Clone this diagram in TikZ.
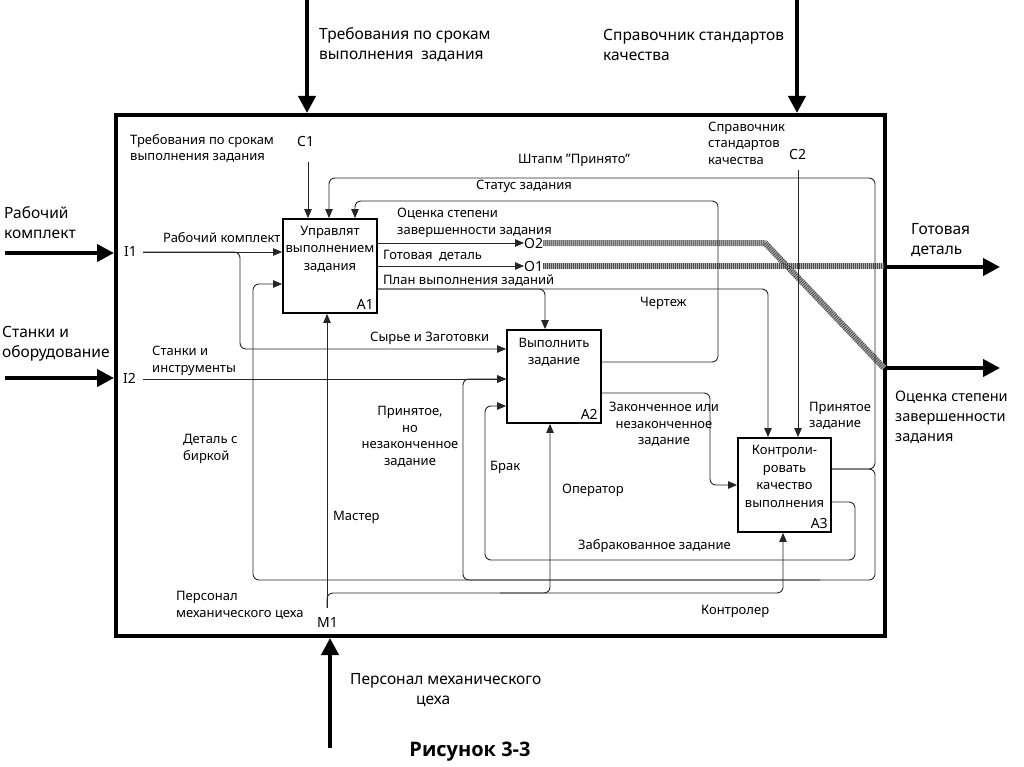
\documentclass[tikz,border=0pt]{standalone}
\usepackage{fontspec}
\setmainfont{Noto Sans}
\newfontfamily\capfont{Open Sans}
\usetikzlibrary{arrows.meta}
\newcommand\lblfont{\fontsize{13}{16.5}\selectfont}
\newcommand\boxfont{\fontsize{13}{17.5}\selectfont}
\newcommand\outfont{\fontsize{15.5}{20}\selectfont}
\begin{document}
\begin{tikzpicture}[x=1pt,y=-1pt,
  conn/.style={line width=0.9pt, black!85, rounded corners=6pt},
  arr/.style={conn, -{Triangle[length=9pt,width=7.5pt]}},
  big/.style={line width=4pt, -{Triangle[length=17pt,width=17pt]}},
  hatch/.style={line width=6pt, black!30},
  hatchover/.style={line width=6pt, black!70, dash pattern=on 0.8pt off 1.2pt},
  proc/.style={draw, line width=1.8pt, minimum width=94pt, minimum height=94pt, inner sep=0pt},
  boxtxt/.style={font=\boxfont, align=center, inner sep=0pt},
  num/.style={font=\fontsize{14}{16}\selectfont, inner sep=4pt, anchor=south east},
  lab/.style={font=\lblfont, align=left, inner sep=0pt, anchor=west},
  labc/.style={font=\lblfont, align=center, inner sep=0pt},
  outlab/.style={font=\outfont, align=left, inner sep=0pt, anchor=west},
  tag/.style={font=\fontsize{14}{16}\selectfont, inner sep=0pt, anchor=west}]
\useasboundingbox (0,0) rectangle (1024,767);

% frame
\node[draw, line width=4pt, minimum width=769pt, minimum height=521pt, inner sep=0pt] (F) at (500.5,375.5) {};

% activity boxes
\node[proc] (A1) at (330,266) {};
\node[proc, minimum height=93pt] (A2) at (554,376.5) {};
\node[proc, minimum width=93pt] (A3) at (784.5,485) {};
\node[boxtxt] (A1t) at (330,249) {Управлят\\выполнением\\задания};
\node[boxtxt] (A2t) at (554,352.5) {Выполнить\\задание};
\node[boxtxt] (A3t) at (784.5,476.5) {Контроли-\\ровать\\качество\\выполнения};
\node[num] (A1n) at (A1.south east) {A1};
\node[num] (A2n) at (A2.south east) {A2};
\node[num] (A3n) at (A3.south east) {A3};

% tunnel tags
\node[tag] (O2) at (524,243) {O2};
\node[tag] (O1) at (524,266) {O1};
\node[tag] (C1) at (297,142) {C1};
\node[tag] (C2) at (789,155) {C2};
\node[tag] (I1) at (124,252) {I1};
\node[tag] (I2) at (123,378) {I2};
\node[tag] (M1) at (317,622) {M1};

% free ends
\coordinate (c1) at (308,162);
\coordinate (c2) at (798,170);
\coordinate (i1) at (143,252);
\coordinate (i2) at (143,379);
\coordinate (m1) at (327,608);
\coordinate (j1) at (820,580);
\coordinate (j2) at (500,593);
\coordinate (t1) at (307,0);
\coordinate (t2) at (797,0);
\coordinate (l1) at (5,253);
\coordinate (l2) at (5,378);
\coordinate (b1) at (330,748);
\coordinate (r1) at (1000,267);
\coordinate (r2) at (1000,368);

% hatched tunnels
\draw[hatch] (O2.east) -- (765,243) -- (884,368);
\draw[hatch] (O1.east) -- (884,266);
\draw[hatchover] (O2.east) -- (765,243) -- (884,368);
\draw[hatchover] (O1.east) -- (884,266);

% controls
\draw[arr] (c1) -- (c1 |- A1.north);
\draw[arr] (c2) -- (c2 |- A3.north);
% inputs
\draw[arr] (i1) -- (i1 -| A1.west);
\draw[arr] (i1) -- (240,252) -- (240,349) -- (A2.west |- 0,349);
\draw[arr] (i2) -- (A2.west |- 0,379);
% A1 outputs
\draw[arr] (A1.east |- 0,243) -- (O2.west);
\draw[arr] (A1.east |- 0,266) -- (O1.west);
\draw[arr] (A1.east |- 0,289) -- (768,289) -- (768,289 |- A3.north);
\draw[arr] (A1.east |- 0,289) -- (545,289) -- (545,289 |- A2.north);
% status
\draw[arr] (A2.east |- 0,362) -- (718,362) -- (718,201) -- (355,201) -- (355,201 |- A1.north);
% A2 -> A3
\draw[arr] (A2.east |- 0,393) -- (710,393) -- (710,485) -- (A3.west);
% A3 feedback
\draw[arr] (A3.east |- 0,469) -- (875,469) -- (875,178) -- (329,178) -- (329,178 |- A1.north);
\draw[arr] (A3.east |- 0,469) -- (875,469) -- (875,580) -- (253,580) -- (253,284) -- (A1.west |- 0,284);
\draw[arr] (j1) -- (463,580) -- (463,379) -- (A2.west |- 0,379);
\draw[arr] (A3.east |- 0,502) -- (855,502) -- (855,560) -- (485,560) -- (485,406) -- (A2.west |- 0,406);
% mechanisms
\draw[arr] (m1) -- (m1 |- A1.south);
\draw[arr] (m1) -- (327,593) -- (783,593) -- (783,593 |- A3.south);
\draw[arr] (j2) -- (550,593) -- (550,593 |- A2.south);

% external arrows
\draw[big] (t1) -- (t1 |- F.north);
\draw[big] (t2) -- (t2 |- F.north);
\draw[big] (l1) -- (l1 -| F.west);
\draw[big] (l2) -- (l2 -| F.west);
\draw[big] (b1) -- (b1 |- F.south);
\draw[big] (r1 -| F.east) -- (r1);
\draw[big] (r2 -| F.east) -- (r2);

% outer labels
\node[outlab] (L1) at (319,45) {Требования по срокам\\выполнения\enspace задания};
\node[outlab] (L2) at (603,45) {Справочник стандартов\\качества};
\node[outlab] (L3) at (4,223) {Рабочий\\комплект};
\node[outlab] (L4) at (2,343.5) {Станки и\\оборудование};
\node[outlab] (L5) at (911,240.5) {Готовая\\деталь};
\node[outlab, font=\fontsize{14.5}{20}\selectfont] (L6) at (895,417) {Оценка степени\\завершенности\\задания};
\node[outlab] (L7) at (350,690.5) {Персонал механического\\\hspace*{66pt}цеха};
\node[font=\capfont\bfseries\fontsize{20}{24}\selectfont, inner sep=0pt] (cap) at (470,752) {Рисунок 3-3};

% inner labels
\node[lab] (n1) at (130,148.5) {Требования по срокам\\выполнения задания};
\node[lab] (n2) at (163,238) {Рабочий комплект};
\node[lab] (n3) at (518,160) {Штапм "Принято"};
\node[lab] (n4) at (476,186) {Статус задания};
\node[lab] (n5) at (397,223) {Оценка степени\\завершенности задания};
\node[lab] (n6) at (383,256) {Готовая\enspace деталь};
\node[lab] (n7) at (383,281) {План выполнения заданий};
\node[lab] (n8) at (708,143) {Справочник\\стандартов\\качества};
\node[lab] (n9) at (640,303) {Чертеж};
\node[lab] (n10) at (370,338) {Сырье и Заготовки};
\node[lab] (n11) at (152,361) {Станки и\\инструменты};
\node[labc] (n12) at (410,437) {Принятое,\\но\\незаконченное\\задание};
\node[lab] (n13) at (183,449) {Деталь с\\биркой};
\node[lab] (n14) at (490,467) {Брак};
\node[lab] (n15) at (562,490) {Оператор};
\node[labc] (n16) at (664,424.5) {Законченное или\\незаконченное\\задание};
\node[lab] (n17) at (809,416) {Принятое\\задание};
\node[lab] (n18) at (333,517) {Мастер};
\node[lab] (n19) at (578,546) {Забракованное задание};
\node[lab] (n20) at (176,605.5) {Персонал\\механического цеха};
\node[lab] (n21) at (701,611) {Контролер};
\end{tikzpicture}
\end{document}
